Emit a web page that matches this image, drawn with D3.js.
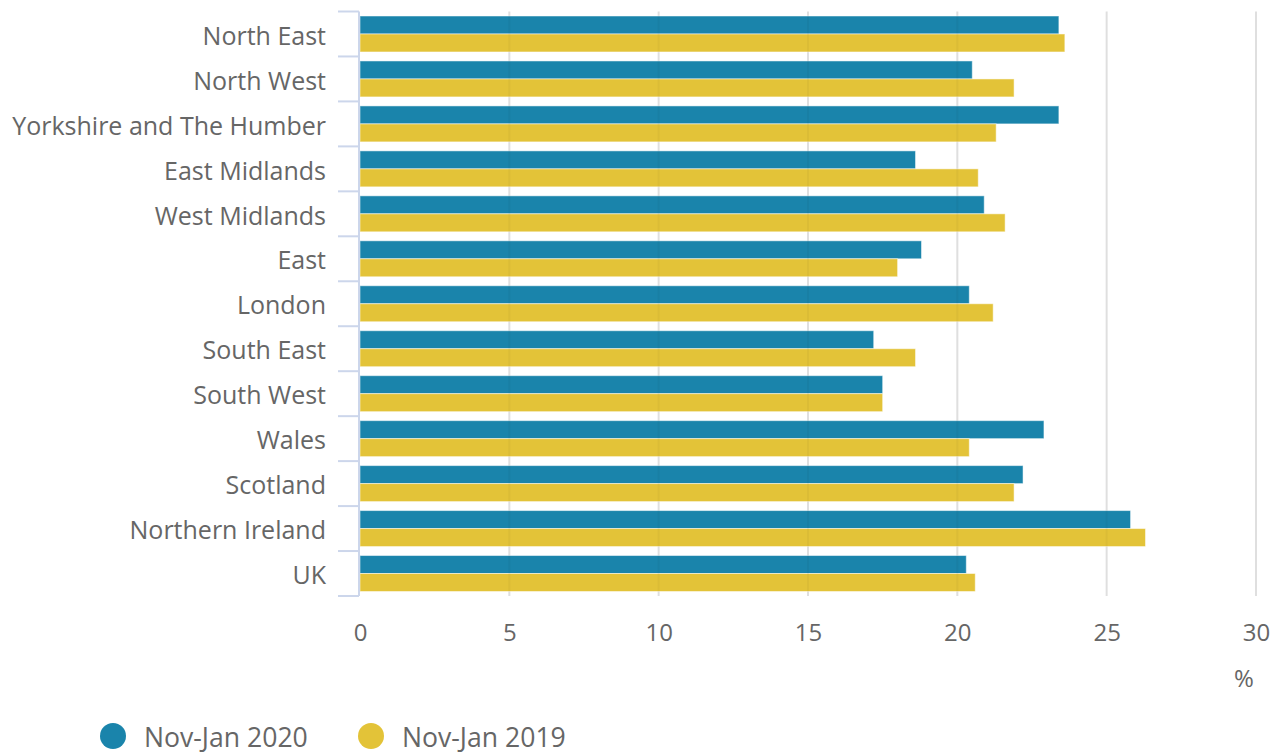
<!DOCTYPE html>
<html>
<head>
<meta charset="utf-8">
<script src="https://cdn.jsdelivr.net/npm/d3@7"></script>
<style>
body { margin: 0; background: #fff; }
svg text { font-family: "Open Sans", sans-serif; fill: #666; }
</style>
</head>
<body>
<script>
const regions = ["North East", "North West", "Yorkshire and The Humber", "East Midlands", "West Midlands", "East", "London", "South East", "South West", "Wales", "Scotland", "Northern Ireland", "UK"];
const seriesNames = ["Nov-Jan 2020", "Nov-Jan 2019"];
const values2020 = [23.4, 20.5, 23.4, 18.6, 20.9, 18.8, 20.4, 17.2, 17.5, 22.9, 22.2, 25.8, 20.3];
const values2019 = [23.6, 21.9, 21.3, 20.7, 21.6, 18.0, 21.2, 18.6, 17.5, 20.4, 21.9, 26.3, 20.6];
const xTicks = [0, 5, 10, 15, 20, 25, 30];
const colors = ["#1a84ab", "#e3c338"];

const W = 1276, H = 755;
const m = {left: 360, right: 20, top: 11.5, bottom: 159};
const svg = d3.select("body").append("svg").attr("width", W).attr("height", H);

const x = d3.scaleLinear().domain([0, 30]).range([m.left, 1256]);
const y = d3.scaleBand().domain(regions).range([m.top, H - m.bottom]).paddingInner(0).paddingOuter(0);
const inner = d3.scaleBand().domain(seriesNames).range([0, y.bandwidth()]).paddingOuter(0.25).paddingInner(0);

// grid
svg.append("g").selectAll("line").data(xTicks.slice(1)).enter().append("line")
	.attr("x1", d => x(d)).attr("x2", d => x(d))
	.attr("y1", m.top).attr("y2", H - m.bottom)
	.attr("stroke", "#e8e8e8").attr("stroke-width", 2);

// bars
const rows = regions.map((r, i) => ({region: r, vals: [values2020[i], values2019[i]]}));
const g = svg.append("g").selectAll("g").data(rows).enter().append("g")
	.attr("transform", d => "translate(0," + y(d.region) + ")");
g.selectAll("rect").data(d => d.vals.map((v, i) => ({v, s: seriesNames[i], c: colors[i]}))).enter().append("rect")
	.attr("x", x(0))
	.attr("y", d => inner(d.s))
	.attr("width", d => x(d.v) - x(0))
	.attr("height", inner.bandwidth())
	.attr("fill", d => d.c)
	.attr("stroke", "rgba(255,255,255,0.5)")
	.attr("stroke-width", 1);

// grid overlay showing through bars
svg.append("g").selectAll("line").data(xTicks.slice(1)).enter().append("line")
	.attr("x1", d => x(d)).attr("x2", d => x(d))
	.attr("y1", m.top).attr("y2", H - m.bottom)
	.attr("stroke", "rgba(0,0,0,0.035)").attr("stroke-width", 2);

// y axis
const axisColor = "#ccd6eb";
const yAxis = svg.append("g");
yAxis.append("line").attr("x1", 359).attr("x2", 359).attr("y1", m.top).attr("y2", H - m.bottom)
	.attr("stroke", axisColor).attr("stroke-width", 2);
const yTickPos = regions.map(r => y(r)).concat([H - m.bottom]);
yAxis.selectAll(".tick").data(yTickPos).enter().append("line")
	.attr("x1", 338).attr("x2", 359).attr("y1", d => d).attr("y2", d => d)
	.attr("stroke", axisColor).attr("stroke-width", 2);
yAxis.selectAll("text").data(regions).enter().append("text")
	.attr("x", 326).attr("y", d => y(d) + y.bandwidth() / 2 + 4)
	.attr("text-anchor", "end").attr("dominant-baseline", "middle")
	.attr("font-size", 25).text(d => d);

// x labels
const xAxis = d3.axisBottom(x).tickValues(xTicks).tickSize(0).tickPadding(0);
const xg = svg.append("g").attr("transform", "translate(0," + 641 + ")").call(xAxis);
xg.select(".domain").remove();
xg.selectAll("text").attr("font-size", 24).attr("dy", null).attr("y", 0)
	.style("font-family", "Open Sans, sans-serif").attr("fill", "#666");
svg.append("text").attr("x", 1244).attr("y", 687).attr("text-anchor", "middle").attr("font-size", 24).text("%");

// legend
const legendX = [113, 371];
const lg = svg.append("g").selectAll("g").data(seriesNames).enter().append("g")
	.attr("transform", (d, i) => "translate(" + legendX[i] + ",736)");
lg.append("circle").attr("r", 13).attr("fill", (d, i) => colors[i]);
lg.append("text").attr("x", 31).attr("y", 11).attr("font-size", 26.6).text(d => d);
</script>
</body>
</html>
